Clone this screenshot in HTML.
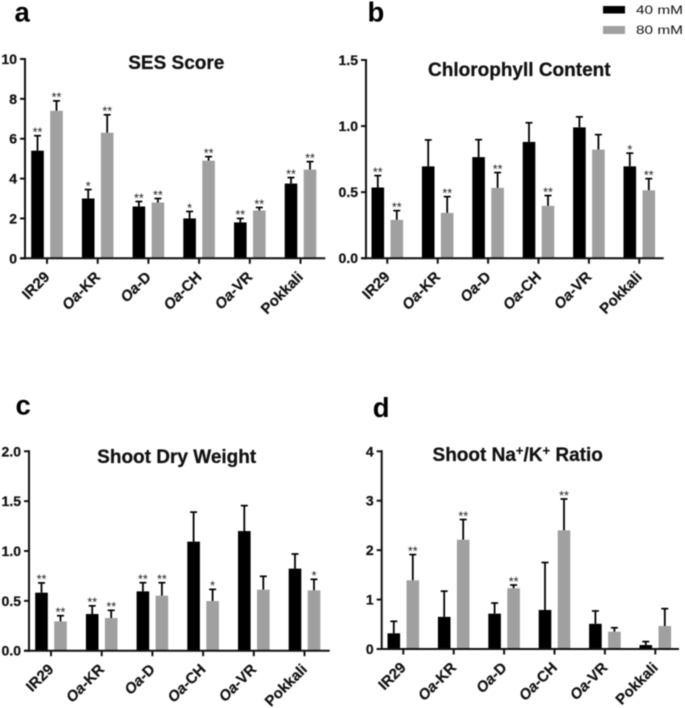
<!DOCTYPE html>
<html lang="en">
<head>
<meta charset="utf-8">
<title>Salinity response bar charts</title>
<style>
html,body{margin:0;padding:0;background:#fff;width:685px;height:708px;overflow:hidden}
svg{display:block;filter:blur(0.45px)}
text{font-family:"Liberation Sans",sans-serif;fill:#111}
.letter{font-size:27.5px;font-weight:700;fill:#000}
.title{font-size:19px;font-weight:700;text-anchor:middle;stroke:#111;stroke-width:.25px}
.tick{font-size:14px;font-weight:700;text-anchor:end;stroke:#111;stroke-width:.25px}
.cat{font-size:15px;font-weight:700;text-anchor:end;stroke:#111;stroke-width:.2px}
.star{font-size:12.5px;text-anchor:middle;fill:#222}
.legend{font-size:12px}
</style>
</head>
<body>
<svg id="figure" xmlns="http://www.w3.org/2000/svg" width="685" height="708" viewBox="0 0 685 708">
  <rect x="0" y="0" width="685" height="708" fill="#fff"/>
  <text class="letter" x="14.5" y="21.5">a</text>
  <text class="letter" x="367.5" y="21.5">b</text>
  <text class="letter" x="15.5" y="414.5">c</text>
  <text class="letter" x="372.7" y="417">d</text>
  <text class="title" x="176.3" y="69">SES Score</text>
  <text class="title" x="519.3" y="76">Chlorophyll Content</text>
  <text class="title" x="176.7" y="463">Shoot Dry Weight</text>
  <text class="title" x="517.7" y="461">Shoot Na<tspan font-size="13" dy="-6">+</tspan><tspan dy="6">/K</tspan><tspan font-size="13" dy="-6">+</tspan><tspan dy="6"> Ratio</tspan></text>
  <g>
    <rect x="603" y="6" width="22" height="7.5" fill="#000"/>
    <text class="legend" x="636" y="14" textLength="47" lengthAdjust="spacingAndGlyphs">40 mM</text>
    <rect x="603" y="26" width="22" height="8" fill="#a0a0a0"/>
    <text class="legend" x="636" y="34" textLength="47" lengthAdjust="spacingAndGlyphs">80 mM</text>
  </g>
</svg>
<script>
const categories = ['IR29', 'Oa-KR', 'Oa-D', 'Oa-CH', 'Oa-VR', 'Pokkali'];

const sesTicks = ['0', '2', '4', '6', '8', '10'];
const ses40 = [5.4, 3.0, 2.6, 2.0, 1.8, 3.75];
const ses40Err = [6.15, 3.45, 2.85, 2.35, 2.0, 4.05];
const ses80 = [7.4, 6.3, 2.8, 4.9, 2.4, 4.45];
const ses80Err = [7.9, 7.2, 3.0, 5.1, 2.55, 4.85];
const ses40Stars = ['**', '*', '**', '*', '**', '**'];
const ses80Stars = ['**', '**', '**', '**', '**', '**'];

const chlTicks = ['0.0', '0.5', '1.0', '1.5'];
const chl40 = [0.535, 0.695, 0.765, 0.88, 0.99, 0.695];
const chl40Err = [0.625, 0.895, 0.897, 1.025, 1.07, 0.795];
const chl80 = [0.29, 0.343, 0.532, 0.396, 0.822, 0.514];
const chl80Err = [0.36, 0.466, 0.648, 0.474, 0.935, 0.602];
const chl40Stars = ['**', '', '', '', '', '*'];
const chl80Stars = ['**', '**', '**', '**', '', '**'];

const dryTicks = ['0.0', '0.5', '1.0', '1.5', '2.0'];
const dry40 = [0.582, 0.368, 0.595, 1.094, 1.2, 0.823];
const dry40Err = [0.68, 0.45, 0.682, 1.39, 1.455, 0.97];
const dry80 = [0.294, 0.328, 0.552, 0.498, 0.612, 0.605];
const dry80Err = [0.351, 0.405, 0.682, 0.615, 0.746, 0.716];
const dry40Stars = ['**', '**', '**', '', '', ''];
const dry80Stars = ['**', '**', '**', '*', '', '*'];

const ratioTicks = ['0', '1', '2', '3', '4'];
const ratio40 = [0.317, 0.65, 0.715, 0.79, 0.51, 0.08];
const ratio40Err = [0.56, 1.17, 0.93, 1.75, 0.77, 0.15];
const ratio80 = [1.39, 2.21, 1.23, 2.4, 0.35, 0.465];
const ratio80Err = [1.91, 2.62, 1.295, 3.035, 0.43, 0.816];
const ratio40Stars = ['', '', '', '', '', ''];
const ratio80Stars = ['**', '**', '**', '**', '', ''];

const svg = document.getElementById('figure');
const NS = 'http://www.w3.org/2000/svg';

function make(tag, parent, attrs) {
  const el = document.createElementNS(NS, tag);
  for (const k in attrs) el.setAttribute(k, attrs[k]);
  parent.appendChild(el);
  return el;
}

function drawPanel(p) {
  const g = make('g', svg, {});
  
  

  const maxTick = parseFloat(p.ticks[p.ticks.length - 1]);
  const yScale = function (v) { return p.y0 - (v / maxTick) * (p.y0 - p.yTop); };
  const xScale = function (i) { return p.x0 + i * p.step; };

  function series(values, errs, stars, color, offset, label) {
    values.forEach(function (v, i) {
      const cx = xScale(i) + offset;
      const top = yScale(errs[i]);
      const barTop = yScale(v);

      const stem = make('line', g, { x1: cx, x2: cx, y1: barTop, y2: top, stroke: '#000', 'stroke-width': 1.8 });
      
      

      const cap = make('line', g, { x1: cx - 3.5, x2: cx + 3.5, y1: top, y2: top, stroke: '#000', 'stroke-width': 1.7 });
      
      

      const bar = make('rect', g, { x: cx - 6.3, y: barTop, width: 12.6, height: p.y0 - barTop, fill: color });
      
      

      if (stars[i]) {
        const s = make('text', g, { x: cx, y: top + 0.8, class: 'star' });
        
        
        s.textContent = stars[i];
      }
    });
  }

  series(p.v40, p.e40, p.s40, '#000', -9.5, '40mm');
  series(p.v80, p.e80, p.s80, '#a0a0a0', 9.5, '80mm');

  const yAxis = make('line', g, { x1: p.axisX, x2: p.axisX, y1: p.yTop - 1, y2: p.y0 + 1, stroke: '#111', 'stroke-width': 2 });
  
  

  const xAxis = make('line', g, { x1: p.axisX - 5, x2: p.xEnd, y1: p.y0, y2: p.y0, stroke: '#111', 'stroke-width': 2 });
  
  

  p.ticks.forEach(function (t) {
    const y = yScale(parseFloat(t));
    const mark = make('line', g, { x1: p.axisX - 5, x2: p.axisX, y1: y, y2: y, stroke: '#111', 'stroke-width': 2 });
    
    

    const lab = make('text', g, { x: p.axisX - 8, y: y + 5, class: 'tick' });
    
    
    lab.textContent = t;
  });

  categories.forEach(function (c, i) {
    const x = xScale(i);
    const mark = make('line', g, { x1: x, x2: x, y1: p.y0, y2: p.y0 + 5.5, stroke: '#111', 'stroke-width': 2 });
    
    

    const lx = x + 3.5;
    const ly = p.y0 + 19.5;
    const lab = make('text', g, { class: 'cat', transform: 'translate(' + lx + ' ' + ly + ') rotate(-45)', x: 0, y: 0 });
    
    
    if (c.indexOf('Oa') === 0) {
      const it = make('tspan', lab, { 'font-style': 'italic' });
      it.textContent = 'Oa';
      const rest = make('tspan', lab, {});
      rest.textContent = c.slice(2);
    } else {
      lab.textContent = c;
    }
  });
}

drawPanel({ name: 'ses-score', ticks: sesTicks, v40: ses40, e40: ses40Err, v80: ses80, e80: ses80Err, s40: ses40Stars, s80: ses80Stars,
  axisX: 25, xEnd: 325.3, y0: 258.3, yTop: 59, x0: 47, step: 50.7 });
drawPanel({ name: 'chlorophyll-content', ticks: chlTicks, v40: chl40, e40: chl40Err, v80: chl80, e80: chl80Err, s40: chl40Stars, s80: chl80Stars,
  axisX: 366, xEnd: 663.7, y0: 258.2, yTop: 60, x0: 387.3, step: 50.4 });
drawPanel({ name: 'shoot-dry-weight', ticks: dryTicks, v40: dry40, e40: dry40Err, v80: dry80, e80: dry80Err, s40: dry40Stars, s80: dry80Stars,
  axisX: 29, xEnd: 329.7, y0: 650.7, yTop: 451.3, x0: 51, step: 50.7 });
drawPanel({ name: 'shoot-na-k-ratio', ticks: ratioTicks, v40: ratio40, e40: ratio40Err, v80: ratio80, e80: ratio80Err, s40: ratio40Stars, s80: ratio80Stars,
  axisX: 381.7, xEnd: 679, y0: 649, yTop: 451.3, x0: 403.3, step: 50.4 });
</script>
</body>
</html>
